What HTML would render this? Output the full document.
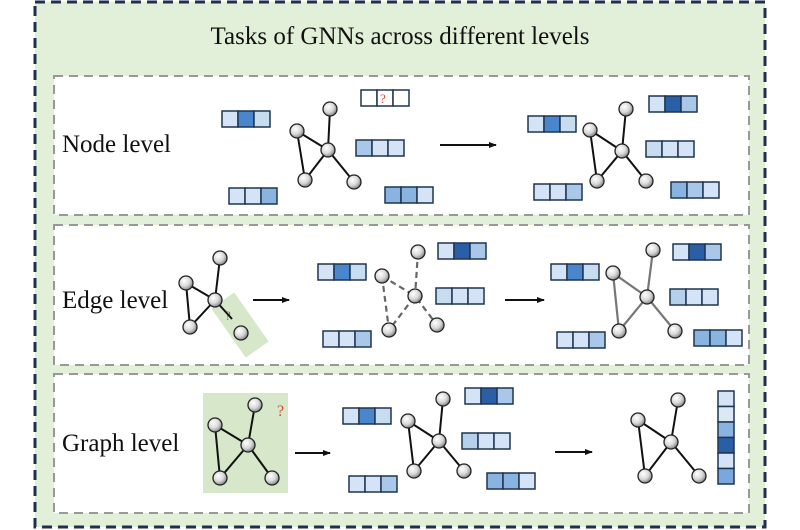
<!DOCTYPE html>
<html><head><meta charset="utf-8"><style>
html,body{margin:0;padding:0;background:#fff;}
svg{display:block;}
text{font-family:"Liberation Serif",serif;fill:#111;}
</style></head><body>
<svg width="800" height="530" viewBox="0 0 800 530" xmlns="http://www.w3.org/2000/svg">
<defs>
<radialGradient id="ball" cx="0.38" cy="0.35" r="0.7">
<stop offset="0" stop-color="#ffffff"/><stop offset="0.55" stop-color="#d8d8d8"/><stop offset="1" stop-color="#7a7a7a"/>
</radialGradient>
<marker id="ar" markerWidth="8" markerHeight="6" refX="7" refY="3" orient="auto" markerUnits="userSpaceOnUse">
<path d="M0,0 L8,3 L0,6 Z" fill="#111"/></marker>
</defs>
<rect x="35" y="2" width="730" height="525" fill="#e2efd9" stroke="#1f2f4f" stroke-width="3" stroke-dasharray="10,6"/>
<text x="400" y="44" font-size="25" text-anchor="middle">Tasks of GNNs across different levels</text>
<g fill="#fff" stroke="#999" stroke-width="2" stroke-dasharray="9,6">
<rect x="54" y="76" width="695" height="139"/>
<rect x="54" y="225" width="695" height="140"/>
<rect x="54" y="374" width="695" height="139"/>
</g>
<text x="62" y="152" font-size="25">Node level</text>
<text x="62" y="308" font-size="25">Edge level</text>
<text x="62" y="451" font-size="25">Graph level</text>

<g stroke="#111" stroke-width="2" marker-end="url(#ar)">
<line x1="440" y1="145" x2="496" y2="145"/>
<line x1="253" y1="300" x2="289" y2="300"/>
<line x1="505" y1="300" x2="544" y2="300"/>
<line x1="295" y1="453" x2="330" y2="453"/>
<line x1="555" y1="452" x2="592" y2="452"/>
</g>

<rect x="226" y="295" width="28" height="60" fill="#d6e8c9" transform="rotate(-35 240 325)"/>
<rect x="203" y="393" width="85" height="100" fill="#d6e8c9"/>

<g stroke="#1f3550" stroke-width="1.5">
<rect x="222" y="111" width="16" height="16" fill="#d4e3f5"/><rect x="238" y="111" width="16" height="16" fill="#4a86cc"/><rect x="254" y="111" width="16" height="16" fill="#c8dcf0"/>
<rect x="229" y="188" width="16" height="16" fill="#d4e3f5"/><rect x="245" y="188" width="16" height="16" fill="#d4e3f5"/><rect x="261" y="188" width="16" height="16" fill="#8ab4e0"/>
<rect x="361" y="90" width="16" height="16" fill="#fff"/><rect x="377" y="90" width="16" height="16" fill="#fff"/><rect x="393" y="90" width="16" height="16" fill="#fff"/>
<rect x="356" y="140" width="16" height="16" fill="#a9c7e8"/><rect x="372" y="140" width="16" height="16" fill="#d4e3f5"/><rect x="388" y="140" width="16" height="16" fill="#d4e3f5"/>
<rect x="385" y="187" width="16" height="16" fill="#8ab4e0"/><rect x="401" y="187" width="16" height="16" fill="#8ab4e0"/><rect x="417" y="187" width="16" height="16" fill="#d4e3f5"/>
<rect x="528" y="116" width="16" height="16" fill="#d4e3f5"/><rect x="544" y="116" width="16" height="16" fill="#4a86cc"/><rect x="560" y="116" width="16" height="16" fill="#c8dcf0"/>
<rect x="649" y="96" width="16" height="16" fill="#d4e3f5"/><rect x="665" y="96" width="16" height="16" fill="#2a5fa8"/><rect x="681" y="96" width="16" height="16" fill="#a9c7e8"/>
<rect x="646" y="141" width="16" height="16" fill="#c8dcf0"/><rect x="662" y="141" width="16" height="16" fill="#d4e3f5"/><rect x="678" y="141" width="16" height="16" fill="#d4e3f5"/>
<rect x="534" y="184" width="16" height="16" fill="#d4e3f5"/><rect x="550" y="184" width="16" height="16" fill="#d4e3f5"/><rect x="566" y="184" width="16" height="16" fill="#a9c7e8"/>
<rect x="671" y="182" width="16" height="16" fill="#8ab4e0"/><rect x="687" y="182" width="16" height="16" fill="#a9c7e8"/><rect x="703" y="182" width="16" height="16" fill="#d4e3f5"/>
<rect x="318" y="264" width="16" height="16" fill="#d4e3f5"/><rect x="334" y="264" width="16" height="16" fill="#4a86cc"/><rect x="350" y="264" width="16" height="16" fill="#c8dcf0"/>
<rect x="438" y="243" width="16" height="16" fill="#d4e3f5"/><rect x="454" y="243" width="16" height="16" fill="#2a5fa8"/><rect x="470" y="243" width="16" height="16" fill="#a9c7e8"/>
<rect x="436" y="288" width="16" height="16" fill="#c8dcf0"/><rect x="452" y="288" width="16" height="16" fill="#d4e3f5"/><rect x="468" y="288" width="16" height="16" fill="#d4e3f5"/>
<rect x="323" y="331" width="16" height="16" fill="#d4e3f5"/><rect x="339" y="331" width="16" height="16" fill="#d4e3f5"/><rect x="355" y="331" width="16" height="16" fill="#a9c7e8"/>
<rect x="551" y="264" width="16" height="16" fill="#d4e3f5"/><rect x="567" y="264" width="16" height="16" fill="#4a86cc"/><rect x="583" y="264" width="16" height="16" fill="#c8dcf0"/>
<rect x="673" y="244" width="16" height="16" fill="#d4e3f5"/><rect x="689" y="244" width="16" height="16" fill="#2a5fa8"/><rect x="705" y="244" width="16" height="16" fill="#a9c7e8"/>
<rect x="670" y="289" width="16" height="16" fill="#b6d0ec"/><rect x="686" y="289" width="16" height="16" fill="#d4e3f5"/><rect x="702" y="289" width="16" height="16" fill="#d4e3f5"/>
<rect x="557" y="332" width="16" height="16" fill="#d4e3f5"/><rect x="573" y="332" width="16" height="16" fill="#d4e3f5"/><rect x="589" y="332" width="16" height="16" fill="#a9c7e8"/>
<rect x="694" y="330" width="16" height="16" fill="#8ab4e0"/><rect x="710" y="330" width="16" height="16" fill="#8ab4e0"/><rect x="726" y="330" width="16" height="16" fill="#d4e3f5"/>
<rect x="343" y="408" width="16" height="16" fill="#d4e3f5"/><rect x="359" y="408" width="16" height="16" fill="#4a86cc"/><rect x="375" y="408" width="16" height="16" fill="#c8dcf0"/>
<rect x="465" y="388" width="16" height="16" fill="#d4e3f5"/><rect x="481" y="388" width="16" height="16" fill="#2a5fa8"/><rect x="497" y="388" width="16" height="16" fill="#a9c7e8"/>
<rect x="462" y="433" width="16" height="16" fill="#b6d0ec"/><rect x="478" y="433" width="16" height="16" fill="#d4e3f5"/><rect x="494" y="433" width="16" height="16" fill="#d4e3f5"/>
<rect x="349" y="476" width="16" height="16" fill="#d4e3f5"/><rect x="365" y="476" width="16" height="16" fill="#d4e3f5"/><rect x="381" y="476" width="16" height="16" fill="#a9c7e8"/>
<rect x="487" y="473" width="16" height="16" fill="#8ab4e0"/><rect x="503" y="473" width="16" height="16" fill="#8ab4e0"/><rect x="519" y="473" width="16" height="16" fill="#d4e3f5"/>
<rect x="718" y="391" width="16" height="15.5" fill="#d4e3f5"/><rect x="718" y="406.5" width="16" height="15.5" fill="#dde8f5"/><rect x="718" y="422" width="16" height="15.5" fill="#8ab4e0"/><rect x="718" y="437.5" width="16" height="15.5" fill="#2a5fa8"/><rect x="718" y="453" width="16" height="15.5" fill="#d4e3f5"/><rect x="718" y="468.5" width="16" height="15.5" fill="#7aa8dc"/>
</g>
<text x="380" y="103" font-size="13" style="fill:#d04a3a">?</text>
<text x="225" y="320" font-size="13" style="fill:#d04a3a">?</text>
<text x="277" y="416" font-size="16" style="fill:#d04a3a">?</text>

<g stroke="#111" stroke-width="2" fill="none">
<path d="M330,109 L328,150 M297,131 L328,150 M297,131 L305,180 M305,180 L328,150 L354,182"/>
<path d="M626,109 L622,151 M590,130 L622,151 M590,130 L597,181 L622,151 L646,181"/>
<path d="M220,258 L215,300 M186,283 L215,300 M186,283 L190,327 L215,300 M215,300 L232,319"/>
<path d="M255,405 L248,445 M215,425 L248,445 M215,425 L220,478 L248,445 L272,478"/>
<path d="M443,399 L439,441 M408,421 L439,441 M408,421 L414,471 L439,441 L464,471"/>
<path d="M678,400 L671,442 M638,420 L671,442 M638,420 L645,476 L671,442 L699,476"/>
</g>
<path d="M418,252 L415,296 M382,276 L415,296 M382,276 L389,330 L415,296 L437,325" stroke="#666" stroke-width="2.2" fill="none" stroke-dasharray="6,4"/>
<path d="M653,250 L647,297 M613,273 L647,297 M613,273 L619,331 L647,297 L675,331" stroke="#777" stroke-width="2.2" fill="none"/>
<g fill="url(#ball)" stroke="#222" stroke-width="1.3">
<circle cx="330" cy="109" r="7"/><circle cx="297" cy="131" r="7"/><circle cx="328" cy="150" r="7"/><circle cx="305" cy="180" r="7"/><circle cx="354" cy="182" r="7"/>
<circle cx="626" cy="109" r="7"/><circle cx="590" cy="130" r="7"/><circle cx="622" cy="151" r="7"/><circle cx="597" cy="181" r="7"/><circle cx="646" cy="181" r="7"/>
<circle cx="220" cy="258" r="7"/><circle cx="186" cy="283" r="7"/><circle cx="215" cy="300" r="7"/><circle cx="190" cy="327" r="7"/><circle cx="241" cy="333" r="7"/>
<circle cx="418" cy="252" r="7"/><circle cx="382" cy="276" r="7"/><circle cx="415" cy="296" r="7"/><circle cx="389" cy="330" r="7"/><circle cx="437" cy="325" r="7"/>
<circle cx="653" cy="250" r="7"/><circle cx="613" cy="273" r="7"/><circle cx="647" cy="297" r="7"/><circle cx="619" cy="331" r="7"/><circle cx="675" cy="331" r="7"/>
<circle cx="255" cy="405" r="7"/><circle cx="215" cy="425" r="7"/><circle cx="248" cy="445" r="7"/><circle cx="220" cy="478" r="7"/><circle cx="272" cy="478" r="7"/>
<circle cx="443" cy="399" r="7"/><circle cx="408" cy="421" r="7"/><circle cx="439" cy="441" r="7"/><circle cx="414" cy="471" r="7"/><circle cx="464" cy="471" r="7"/>
<circle cx="678" cy="400" r="7"/><circle cx="638" cy="420" r="7"/><circle cx="671" cy="442" r="7"/><circle cx="645" cy="476" r="7"/><circle cx="699" cy="476" r="7"/>
</g>
</svg>
</body></html>
